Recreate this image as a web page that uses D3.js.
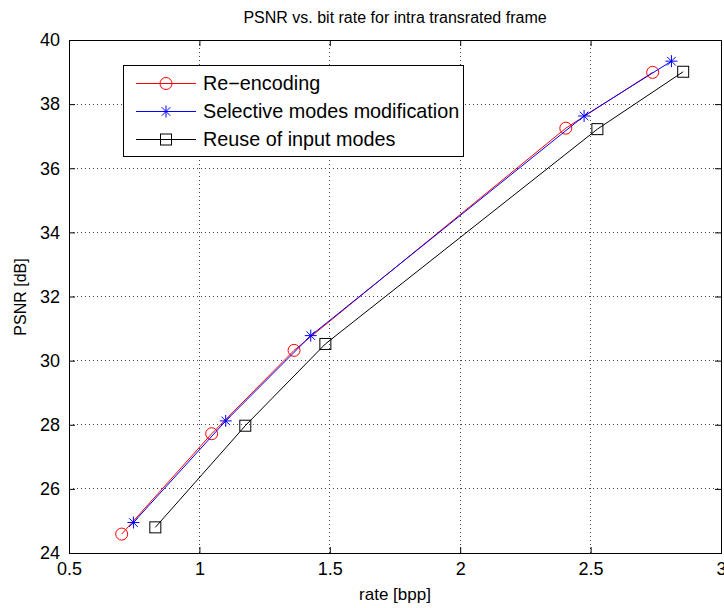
<!DOCTYPE html>
<html><head><meta charset="utf-8">
<script src="https://cdn.jsdelivr.net/npm/d3@7"></script>
<style>body{margin:0;background:#fff}svg{display:block}text{font-family:"Liberation Sans",Arial,Helvetica,sans-serif}</style>
</head><body><svg id="c" width="724" height="608"></svg>
<script>
const seriesNames = ["Re\u2212encoding", "Selective modes modification", "Reuse of input modes"];
const reRate  = [0.702, 1.047, 1.363, 2.405, 2.738];
const rePsnr  = [24.59, 27.72, 30.32, 37.25, 38.99];
const selRate = [0.747, 1.101, 1.427, 2.475, 2.810];
const selPsnr = [24.95, 28.12, 30.78, 37.63, 39.34];
const reuRate = [0.831, 1.176, 1.483, 2.526, 2.855];
const reuPsnr = [24.80, 27.97, 30.52, 37.22, 39.01];
const xTicks = [0.5, 1, 1.5, 2, 2.5, 3];
const yTicks = [24, 26, 28, 30, 32, 34, 36, 38, 40];

const svg = d3.select("#c");
const L = 69, R = 721, T = 40, B = 553;
const x = d3.scaleLinear().domain([0.5, 3]).range([L, R]);
const y = d3.scaleLinear().domain([24, 40]).range([B, T]);

// grid
const g = svg.append("g");
g.selectAll(".gx").data(xTicks.slice(1, -1)).enter().append("line")
  .attr("x1", d => x(d)).attr("x2", d => x(d)).attr("y1", T).attr("y2", B)
  .attr("stroke", "#444").attr("stroke-width", 1).attr("stroke-dasharray", "1,3").attr("shape-rendering","crispEdges");
g.selectAll(".gy").data(yTicks.slice(1, -1)).enter().append("line")
  .attr("y1", d => y(d)).attr("y2", d => y(d)).attr("x1", L).attr("x2", R)
  .attr("stroke", "#444").attr("stroke-width", 1).attr("stroke-dasharray", "1,3").attr("shape-rendering","crispEdges");

// axes
const fmt = d => String(d);
const ax = (a, tr, ticks) => svg.append("g").attr("transform", tr)
  .call(a.tickValues(ticks).tickFormat(fmt).tickSizeInner(-6).tickSizeOuter(0).tickPadding(9));
const styleAx = sel => {
  sel.select(".domain").attr("stroke", "#000");
  sel.selectAll(".tick line").attr("stroke", "#000");
  sel.selectAll("text").attr("font-size", 18).attr("fill", "#000");
};
styleAx(ax(d3.axisBottom(x), `translate(0,${B})`, xTicks));
styleAx(ax(d3.axisLeft(y), `translate(${L},0)`, yTicks));
const axTop = ax(d3.axisTop(x), `translate(0,${T})`, xTicks); styleAx(axTop); axTop.selectAll("text").remove();
const axRight = ax(d3.axisRight(y), `translate(${R},0)`, yTicks); styleAx(axRight); axRight.selectAll("text").remove();
svg.selectAll(".domain").attr("shape-rendering","crispEdges");

// series
const series = [
  {name: seriesNames[0], xs: reRate, ys: rePsnr, color: "#ff0000", marker: "circle"},
  {name: seriesNames[1], xs: selRate, ys: selPsnr, color: "#0000ff", marker: "star"},
  {name: seriesNames[2], xs: reuRate, ys: reuPsnr, color: "#000000", marker: "square"}
];
function drawMarker(sel, type, cx, cy, color) {
  if (type === "circle") sel.append("circle").attr("cx", cx).attr("cy", cy).attr("r", 6)
    .attr("fill", "none").attr("stroke", color).attr("stroke-width", 1);
  else if (type === "square") sel.append("rect").attr("x", cx - 5.5).attr("y", cy - 5.5)
    .attr("width", 11).attr("height", 11).attr("fill", "none").attr("stroke", color).attr("stroke-width", 1);
  else {
    const s = 6, d = 4.3;
    sel.append("path").attr("d", `M${cx-s},${cy}L${cx+s},${cy}M${cx},${cy-s}L${cx},${cy+s}M${cx-d},${cy-d}L${cx+d},${cy+d}M${cx-d},${cy+d}L${cx+d},${cy-d}`)
      .attr("stroke", color).attr("stroke-width", 1).attr("fill", "none");
  }
}
const line = d3.line().x(d => x(d[0])).y(d => y(d[1]));
series.forEach(s => {
  const pts = s.xs.map((v, i) => [v, s.ys[i]]);
  svg.append("path").datum(pts).attr("d", line).attr("fill", "none").attr("stroke", s.color).attr("stroke-width", 1);
  const mg = svg.append("g");
  pts.forEach(p => drawMarker(mg, s.marker, x(p[0]), y(p[1]), s.color));
});

// legend
const lg = svg.append("g");
lg.append("rect").attr("x", 123.5).attr("y", 65.5).attr("width", 340).attr("height", 91)
  .attr("fill", "#fff").attr("stroke", "#000").attr("stroke-width", 1);
const rows = [83.5, 111.5, 139.5];
series.forEach((s, i) => {
  lg.append("line").attr("x1", 136).attr("x2", 196).attr("y1", rows[i]).attr("y2", rows[i])
    .attr("stroke", s.color).attr("stroke-width", 1);
  drawMarker(lg, s.marker, 166, rows[i], s.color);
  lg.append("text").attr("x", 203).attr("y", rows[i]).attr("dy", "0.35em")
    .attr("font-size", 19.8).text(s.name);
});

// labels
svg.append("text").attr("x", 395).attr("y", 23).attr("text-anchor", "middle").attr("font-size", 16)
  .text("PSNR vs. bit rate for intra transrated frame");
svg.append("text").attr("x", 395).attr("y", 600).attr("text-anchor", "middle").attr("font-size", 17)
  .text("rate [bpp]");
svg.append("text").attr("transform", "translate(26,297) rotate(-90)").attr("text-anchor", "middle").attr("font-size", 16)
  .text("PSNR [dB]");
</script></body></html>
